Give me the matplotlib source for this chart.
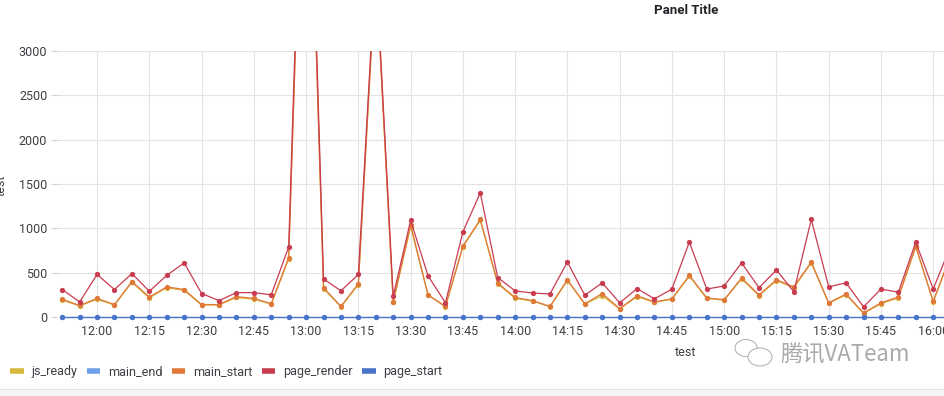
import matplotlib
matplotlib.use("Agg")
import matplotlib.pyplot as plt
from matplotlib.patches import Rectangle, Ellipse
from matplotlib.lines import Line2D

plt.rcParams['font.family'] = ['Roboto', 'Noto Sans CJK SC', 'DejaVu Sans']

times = ["11:50", "11:55", "12:00", "12:05", "12:10", "12:15", "12:20", "12:25", "12:30", "12:35",
         "12:40", "12:45", "12:50", "12:55", "13:00", "13:05", "13:10", "13:15", "13:20", "13:25",
         "13:30", "13:35", "13:40", "13:45", "13:50", "13:55", "14:00", "14:05", "14:10", "14:15",
         "14:20", "14:25", "14:30", "14:35", "14:40", "14:45", "14:50", "14:55", "15:00", "15:05",
         "15:10", "15:15", "15:20", "15:25", "15:30", "15:35", "15:40", "15:45", "15:50", "15:55",
         "16:00", "16:05"]

page_render = [310, 170, 480, 310, 490, 290, 470, 610, 265, 185, 275, 275, 250, 790,
               7000, 430, 295, 480, 4000, 235, 1090, 465, 160, 960, 1400, 445, 295, 270, 260, 620,
               245, 385, 160, 320, 205, 315, 845, 315, 350, 610, 330, 530, 285, 1100, 340, 385,
               115, 315, 280, 845, 315, 800]
main_start = [200, 130, 210, 140, 400, 225, 340, 310, 140, 140, 230, 210, 150, 670,
              6800, 330, 120, 375, 3950, 170, 1040, 250, 120, 800, 1100, 385, 220, 185, 120, 420,
              150, 265, 95, 240, 170, 205, 470, 215, 195, 440, 250, 420, 340, 620, 160, 260,
              45, 160, 225, 800, 175, 700]
js_ready = [190, 125, 200, 135, 390, 215, 330, 300, 135, 135, 220, 200, 145, 655,
            6750, 320, 115, 365, 3900, 165, 1020, 245, 115, 790, 1090, 375, 210, 180, 115, 410,
            145, 240, 90, 230, 165, 200, 460, 210, 190, 430, 240, 410, 330, 610, 155, 250,
            40, 150, 215, 790, 170, 690]
main_end = [0] * len(times)
page_start = [0] * len(times)

xtick_labels = ["12:00", "12:15", "12:30", "12:45", "13:00", "13:15", "13:30", "13:45", "14:00",
                "14:15", "14:30", "14:45", "15:00", "15:15", "15:30", "15:45", "16:00"]
yticks = [0, 500, 1000, 1500, 2000, 2500, 3000]


def to_min(s):
    h, m = s.split(":")
    return int(h) * 60 + int(m)


t0 = to_min(times[0])
x = [to_min(t) - t0 for t in times]
xt = [to_min(t) - t0 for t in xtick_labels]

colors = {
    "js_ready": "#D6B83E",
    "main_end": "#6E9FE8",
    "main_start": "#E0783A",
    "page_render": "#C83C50",
    "page_start": "#4A74C9",
}

W, H = 944, 396
fig = plt.figure(figsize=(W / 100, H / 100), dpi=100)
fig.patch.set_facecolor("white")
ax = fig.add_axes([57 / W, 79 / H, 887 / W, 266 / H])
ax.set_facecolor("white")

series = [("js_ready", js_ready, False), ("main_end", main_end, True),
          ("main_start", main_start, False), ("page_render", page_render, False),
          ("page_start", page_start, True)]
for name, vals, noclip in series:
    ax.plot(x, vals, color=colors[name], lw=0.9, marker="o", ms=3.8, mew=0,
            label=name, clip_on=not noclip, zorder=3)

ax.set_xlim(-1.5, 253.1)
ax.set_ylim(0, 3000)
ax.set_xticks(xt)
ax.set_xticklabels(xtick_labels)
ax.set_yticks(yticks)
ax.set_yticklabels([str(v) for v in yticks])
for s in ax.spines.values():
    s.set_visible(False)
ax.grid(True, color="#e3e3e3", lw=0.8, zorder=0)
ax.tick_params(axis="x", length=0, pad=6, labelsize=9, labelcolor="#3d3f44")
ax.tick_params(axis="y", length=4, width=0.8, color="#d0d0d0", pad=3, labelsize=9, labelcolor="#3d3f44")
ax.set_xlim(-1.5, 253.1)

# Title and axis labels
fig.text(686 / W, 1 - 10 / H, "Panel Title", ha="center", va="center", fontsize=9.5,
         fontweight="bold", color="#222428")
fig.text(686 / W, 1 - 352 / H, "test", ha="center", va="center", fontsize=9, color="#3d3f44")
fig.text(1 / W, 1 - 185 / H, "test", ha="center", va="center", rotation=90, fontsize=9,
         color="#3d3f44")

# Legend
handles, labels = ax.get_legend_handles_labels()
lh = [Line2D([0], [0], color=colors[l], lw=4, solid_capstyle="butt") for l in labels]
fig.legend(lh, labels, loc="center left", bbox_to_anchor=(10 / W, 1 - 372 / H), ncol=5,
           frameon=False, fontsize=9, handlelength=1.1, handletextpad=0.65, columnspacing=0.7,
           labelcolor="#3d3f44", borderaxespad=0, borderpad=0)

# bottom band
fig.add_artist(Rectangle((0, 0), 1, 7 / H, transform=fig.transFigure, facecolor="#f4f5f6",
                         edgecolor="none"))
fig.add_artist(Line2D([0, 1], [7 / H, 7 / H], transform=fig.transFigure, color="#e4e4e4", lw=0.8))

# watermark
fig.add_artist(Ellipse((746 / W, 1 - 348 / H), 22 / W, 17 / H, transform=fig.transFigure,
                       facecolor="none", edgecolor="#b5b5b5", lw=0.8))
fig.add_artist(Ellipse((760 / W, 1 - 357 / H), 24 / W, 18 / H, transform=fig.transFigure,
                       facecolor="white", edgecolor="#b5b5b5", lw=0.8))
fig.text(780 / W, 1 - 355 / H, "腾讯VATeam", ha="left", va="center", fontsize=16,
         color="#a9a9a9", family=["Noto Sans CJK SC", "DejaVu Sans"])

fig.savefig("out.png", dpi=100)
